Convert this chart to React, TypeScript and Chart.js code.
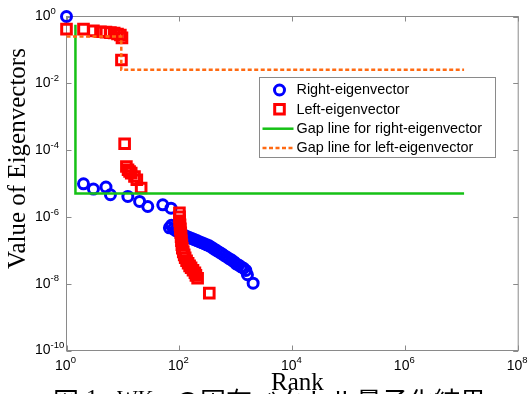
import React, { useEffect, useRef } from 'react';
import { Chart, registerables } from 'chart.js';

Chart.register(...registerables);

// ---- data ----
const rightRank = [1, 2, 3, 5, 6, 12.2, 19.7, 27.5, 50.7, 71,
  66.5, 72.1, 78.2, 84.9, 92, 99.8,
  110.5, 122.3, 135.4, 149.9, 166, 183.7, 203.3, 225, 249.1, 275.7,
  305.2, 337.8, 374, 414, 458.2, 507.2, 561.5, 621.5, 687.9, 761.5,
  842.9, 933, 1012, 1120, 1240, 1372, 1501, 1602, 2020];
const rightValue = [1, 9.8e-6, 6.8e-6, 7.8e-6, 4.6e-6, 4.1e-6, 2.9e-6, 2.05e-6, 2.3e-6, 1.83e-6,
  4.72e-7, 5.61e-7, 4.40e-7, 3.97e-7, 3.71e-7, 3.46e-7,
  3.23e-7, 2.81e-7, 2.59e-7, 2.42e-7, 2.25e-7, 2.09e-7, 1.95e-7, 1.81e-7, 1.69e-7, 1.57e-7,
  1.46e-7, 1.36e-7, 1.22e-7, 1.09e-7, 9.8e-8, 8.8e-8, 7.9e-8, 7.0e-8, 6.3e-8, 5.6e-8,
  5.1e-8, 4.5e-8, 3.9e-8, 3.6e-8, 3.2e-8, 2.9e-8, 2.5e-8, 1.85e-8, 1.04e-8];

const leftRank = [1, 2, 3, 4, 5, 6, 7, 8, 9, 9.6, 9.4,
  10.7, 11.5, 12.3, 13.1, 14, 16, 17.6, 21,
  100, 100.5, 101, 102.5, 104, 105.5, 107, 108.5, 110.5, 112.5,
  117, 121.5, 126.5, 134, 142.5, 151.5, 161, 174, 188, 196,
  210, 338];
const leftValue = [0.42, 0.42, 0.37, 0.35, 0.34, 0.33, 0.32, 0.3, 0.28, 0.23, 0.05,
  1.55e-4, 3.23e-5, 2.57e-5, 2.29e-5, 2.05e-5, 1.62e-5, 1.29e-5, 7.3e-6,
  1.33e-6, 1.01e-6, 7.64e-7, 5.81e-7, 4.41e-7, 3.34e-7, 2.54e-7, 1.93e-7, 1.46e-7, 1.15e-7,
  9.0e-8, 7.3e-8, 5.96e-8, 4.85e-8, 4.08e-8, 3.43e-8, 2.99e-8, 2.52e-8, 2.12e-8, 1.78e-8,
  1.45e-8, 5.24e-9];

const gapRightX = [1.44, 1.44, 1.1e7];
const gapRightY = [0.565, 5e-6, 5e-6];
const gapLeftX = [1, 9.34, 9.34, 1.1e7];
const gapLeftY = [0.252, 0.252, 0.0254, 0.0254];

const seriesLabels = ['Right-eigenvector', 'Left-eigenvector', 'Gap line for right-eigenvector', 'Gap line for left-eigenvector'];

const xTickValues = [1, 1e2, 1e4, 1e6, 1e8];
const xTickExp = ['0', '2', '4', '6', '8'];
const yTickValues = [1, 1e-2, 1e-4, 1e-6, 1e-8, 1e-10];
const yTickExp = ['0', '-2', '-4', '-6', '-8', '-10'];
const tickBase = '10';

const xTitle = 'Rank';
const yTitle = 'Value of Eigenvectors';
const caption = ['図', '1', 'WK', 'の固有ベクトル量子化結果'];

// ---- styles ----
const BLUE = '#0000ff';
const RED = '#ff0000';
const GREEN = '#16c116';
const ORANGE = '#ff6a12';
const AXIS = '#8a8a8a';
const SANS = '"Liberation Sans", Arial, sans-serif';
const SERIF = '"Liberation Serif", "Times New Roman", serif';

function toPts(xs: number[], ys: number[]) {
  return xs.map((x, i) => ({ x, y: ys[i] }));
}

const decorPlugin = {
  id: 'decor',
  beforeDatasetsDraw(chart: any) {
    const { ctx, chartArea: a, scales } = chart;
    const xs = scales.x, ys = scales.y;
    ctx.save();
    ctx.strokeStyle = AXIS;
    ctx.lineWidth = 1;
    ctx.strokeRect(a.left, a.top, a.right - a.left, a.bottom - a.top);
    const tl = 5;
    ctx.beginPath();
    xTickValues.forEach((v) => {
      const px = Math.round(xs.getPixelForValue(v)) + 0.5;
      ctx.moveTo(px, a.bottom); ctx.lineTo(px, a.bottom - tl);
      ctx.moveTo(px, a.top); ctx.lineTo(px, a.top + tl);
    });
    yTickValues.forEach((v) => {
      const py = Math.round(ys.getPixelForValue(v)) + 0.5;
      ctx.moveTo(a.left, py); ctx.lineTo(a.left + tl, py);
      ctx.moveTo(a.right, py); ctx.lineTo(a.right - tl, py);
    });
    ctx.stroke();

    // tick labels
    ctx.fillStyle = '#000';
    ctx.textBaseline = 'middle';
    ctx.textAlign = 'left';
    const baseFont = '14px ' + SANS;
    const expFont = '9.5px ' + SANS;
    xTickValues.forEach((v, i) => {
      const px = xs.getPixelForValue(v);
      ctx.font = baseFont;
      const wb = ctx.measureText(tickBase).width;
      ctx.font = expFont;
      const we = ctx.measureText(xTickExp[i]).width;
      const x0 = px - (wb + we) / 2 - 1;
      const y0 = a.bottom + 15.3;
      ctx.font = baseFont;
      ctx.fillText(tickBase, x0, y0);
      ctx.font = expFont;
      ctx.fillText(xTickExp[i], x0 + wb, y0 - 5.8);
    });
    yTickValues.forEach((v, i) => {
      const py = ys.getPixelForValue(v);
      const x0 = a.left - 31.5;
      ctx.font = baseFont;
      const wb = ctx.measureText(tickBase).width;
      ctx.fillText(tickBase, x0, py);
      ctx.font = expFont;
      ctx.fillText(yTickExp[i], x0 + wb, py - 5);
    });
    ctx.restore();
  },
  afterDatasetsDraw(chart: any) {
    const { ctx, chartArea: a } = chart;
    const ds = chart.data.datasets;
    ctx.save();
    const bx = a.left + 193, by = a.top + 61, bw = 236, bh = 80;
    ctx.fillStyle = '#fff';
    ctx.fillRect(bx, by, bw, bh);
    ctx.strokeStyle = AXIS;
    ctx.lineWidth = 1;
    ctx.strokeRect(bx, by, bw, bh);
    const rowY = [12.5, 31.8, 51.2, 70.5];
    ctx.font = '14.4px ' + SANS;
    ctx.textBaseline = 'middle';
    ctx.textAlign = 'left';
    ds.forEach((d: any, i: number) => {
      const cy = by + rowY[i];
      const sx = bx + 20;
      ctx.save();
      if (d.showLine) {
        ctx.strokeStyle = d.borderColor;
        ctx.lineWidth = d.borderWidth;
        ctx.setLineDash(d.borderDash || []);
        ctx.beginPath();
        ctx.moveTo(bx + 3, cy); ctx.lineTo(bx + 34, cy);
        ctx.stroke();
      } else {
        ctx.strokeStyle = d.pointBorderColor;
        ctx.lineWidth = d.pointBorderWidth;
        ctx.beginPath();
        if (d.pointStyle === 'rect') {
          const s = d.pointRadius * Math.SQRT1_2;
          ctx.rect(sx - s, cy - s, 2 * s, 2 * s);
        } else {
          ctx.arc(sx, cy, d.pointRadius, 0, Math.PI * 2);
        }
        ctx.stroke();
      }
      ctx.restore();
      ctx.fillStyle = '#000';
      ctx.fillText(d.label, bx + 37, cy + 0.5);
    });
    ctx.restore();
  },
  afterDraw(chart: any) {
    const { ctx, chartArea: a } = chart;
    ctx.save();
    ctx.fillStyle = '#000';
    ctx.font = '25px ' + SERIF;
    ctx.textAlign = 'center';
    ctx.textBaseline = 'alphabetic';
    ctx.fillText(xTitle, (a.left + a.right) / 2 + 5, 389.5);
    ctx.save();
    ctx.translate(25, 158.5);
    ctx.rotate(-Math.PI / 2);
    ctx.fillText(yTitle, 0, 0);
    ctx.restore();
    // caption (cut off by the bottom edge)
    ctx.textAlign = 'left';
    ctx.font = '26px "Noto Sans CJK JP"';
    ctx.fillText(caption[0], 53, 410.5);
    ctx.font = '24px ' + SERIF;
    ctx.fillText(caption[1], 86, 405);
    ctx.font = '22px ' + SERIF;
    ctx.fillText(caption[2], 117, 405);
    ctx.font = '26px "Noto Sans CJK JP"';
    ctx.fillText(caption[3], 174, 410.5);
    ctx.restore();
  },
};

export default function App() {
  const ref = useRef<HTMLCanvasElement>(null);
  useEffect(() => {
    if (!ref.current) return;
    const chart = new Chart(ref.current, {
      type: 'scatter',
      data: {
        datasets: [
          {
            label: seriesLabels[0],
            data: toPts(rightRank, rightValue),
            pointStyle: 'circle',
            pointRadius: 5,
            pointBorderWidth: 3,
            pointBorderColor: BLUE,
            pointBackgroundColor: 'rgba(0,0,0,0)',
            borderColor: BLUE,
            backgroundColor: 'rgba(0,0,0,0)',
            showLine: false,
            order: 4,
            clip: false,
          } as any,
          {
            label: seriesLabels[1],
            data: toPts(leftRank, leftValue),
            pointStyle: 'rect',
            pointRadius: 6.8,
            pointBorderWidth: 3,
            pointBorderColor: RED,
            pointBackgroundColor: 'rgba(0,0,0,0)',
            borderColor: RED,
            backgroundColor: 'rgba(0,0,0,0)',
            showLine: false,
            order: 3,
            clip: false,
          } as any,
          {
            label: seriesLabels[2],
            data: toPts(gapRightX, gapRightY),
            showLine: true,
            pointRadius: 0,
            borderColor: GREEN,
            borderWidth: 2.5,
            backgroundColor: 'rgba(0,0,0,0)',
            order: 2,
            clip: false,
          } as any,
          {
            label: seriesLabels[3],
            data: toPts(gapLeftX, gapLeftY),
            showLine: true,
            pointRadius: 0,
            borderColor: ORANGE,
            borderWidth: 2.5,
            borderDash: [4, 2.5],
            backgroundColor: 'rgba(0,0,0,0)',
            order: 1,
            clip: false,
          } as any,
        ],
      },
      options: {
        responsive: false,
        animation: false,
        events: [],
        layout: { padding: { left: 66.5, top: 16.5, right: 9, bottom: 43.5 } },
        scales: {
          x: { type: 'logarithmic', min: 1, max: 1e8, display: false },
          y: { type: 'logarithmic', min: 1e-10, max: 1, display: false },
        },
        plugins: {
          legend: { display: false },
          tooltip: { enabled: false },
        },
      },
      plugins: [decorPlugin],
    });
    return () => chart.destroy();
  }, []);
  return (
    <div style={{ position: 'fixed', left: 0, top: 0, width: 528, height: 394, background: '#fff', overflow: 'hidden' }}>
      <canvas ref={ref} width={528} height={394} style={{ display: 'block' }} />
    </div>
  );
}
